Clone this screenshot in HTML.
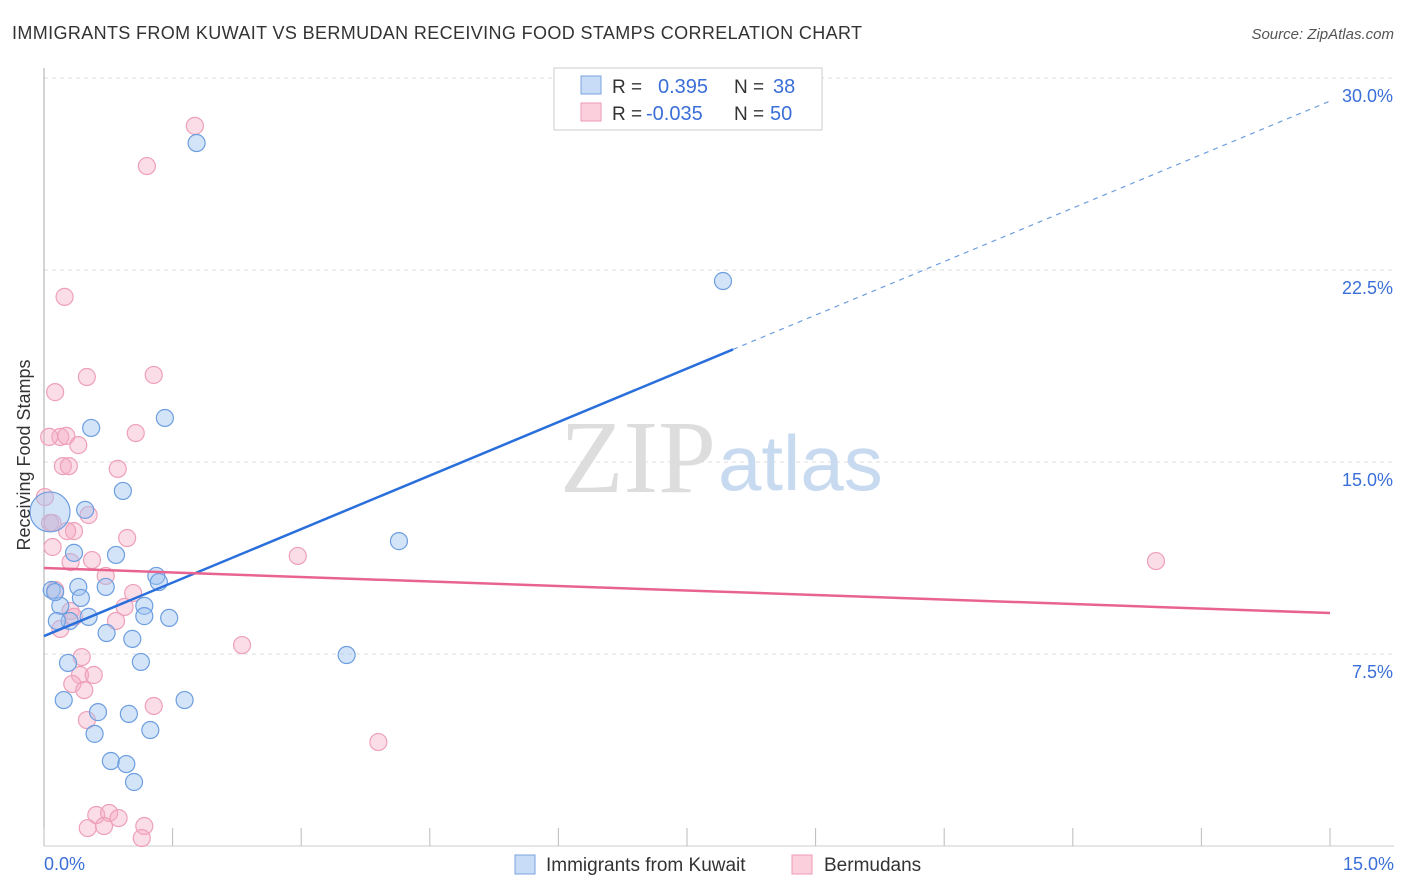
<!DOCTYPE html>
<html><head><meta charset="utf-8"><style>
body{margin:0;background:#fff;font-family:"Liberation Sans",sans-serif;}
svg{display:block}
</style></head><body>
<svg id="chart" width="1406" height="892">
<text x="12" y="39" font-size="18" fill="#333" textLength="850">IMMIGRANTS FROM KUWAIT VS BERMUDAN RECEIVING FOOD STAMPS CORRELATION CHART</text>
<text x="1394" y="39" font-size="15" fill="#555" font-style="italic" text-anchor="end">Source: ZipAtlas.com</text>
<g id="grid"></g>
<text x="716" y="492" font-size="104" font-family="Liberation Serif,serif" fill="#ddd" text-anchor="end">ZIP</text>
<text x="718" y="490" font-size="78" fill="#c8daf0">atlas</text>
<line x1="44" y1="68" x2="44" y2="846" stroke="#aaa"/>
<line x1="44" y1="846" x2="1394" y2="846" stroke="#ccc"/>
<g id="ticks"></g>
<g id="pts"></g>
<g id="lines"></g>
<text x="30" y="455" font-size="18" fill="#333" text-anchor="middle" transform="rotate(-90 30 455)">Receiving Food Stamps</text>
<text x="44" y="870" font-size="18" fill="#3a6fd8">0.0%</text>
<text x="1394" y="870" font-size="18" fill="#3a6fd8" text-anchor="end">15.0%</text>
<g>
<rect x="554" y="68" width="268" height="62" fill="#fff" stroke="#ccc"/>
<rect x="581" y="76" width="20" height="18" fill="#c9dcf7" stroke="#7aa3e0"/>
<rect x="581" y="103" width="20" height="18" fill="#fbd0dc" stroke="#ef99b4"/>
<text x="612" y="93" font-size="19" fill="#333">R = <tspan fill="#3a6fd8" x="658" font-size="20">0.395</tspan><tspan x="734">N =</tspan><tspan fill="#3a6fd8" x="773" font-size="20">38</tspan></text>
<text x="612" y="120" font-size="19" fill="#333">R = <tspan fill="#3a6fd8" x="646" font-size="20">-0.035</tspan><tspan x="734">N =</tspan><tspan fill="#3a6fd8" x="770" font-size="20">50</tspan></text>
</g>
<g>
<rect x="515" y="855" width="20" height="19" fill="#c9dcf7" stroke="#7aa3e0"/>
<text x="546" y="871" font-size="19" fill="#333">Immigrants from Kuwait</text>
<rect x="792" y="855" width="20" height="19" fill="#fbd0dc" stroke="#ef99b4"/>
<text x="824" y="871" font-size="19" fill="#333">Bermudans</text>
</g>
</svg>
<script>
const yTicks=[7.5,15,22.5,30];
const yTickLabels=["7.5%","15.0%","22.5%","30.0%"];
const blueX=[1.78,7.92,1.41,0.55,0.92,0.48,0.07,4.14,0.35,0.84,0.09,0.72,0.40,0.43,1.31,1.34,0.19,1.17,1.17,1.46,0.52,0.30,0.15,0.73,1.03,1.13,3.53,0.28,0.23,1.64,0.63,0.99,0.59,1.24,0.78,0.96,1.05,0.13];
const blueY=[27.46,22.07,16.72,16.33,13.87,13.13,13.05,11.91,11.45,11.37,10.0,10.12,10.12,9.69,10.55,10.31,9.38,9.38,8.98,8.91,8.95,8.79,8.79,8.32,8.09,7.19,7.46,7.15,5.70,5.70,5.23,5.16,4.38,4.53,3.32,3.20,2.50,9.92];
const pinkX=[1.76,1.20,0.24,0.13,0.50,1.28,0.19,0.06,0.26,0.40,1.07,0.22,0.29,0.86,0.52,0.01,0.07,0.10,0.35,0.27,0.10,0.97,0.56,2.96,0.31,12.97,0.13,0.72,1.04,0.94,0.31,0.35,0.84,0.19,2.31,0.44,0.42,0.58,0.33,0.47,1.28,0.50,3.90,0.61,0.76,0.87,0.51,0.70,1.17,1.14];
const pinkY=[28.13,26.56,21.45,17.73,18.32,18.40,15.98,15.98,16.02,15.66,16.13,14.84,14.84,14.73,12.93,13.63,12.62,12.62,12.30,12.30,11.68,12.03,11.17,11.33,11.09,11.13,10.0,10.55,9.88,9.34,9.18,8.95,8.79,8.48,7.85,7.38,6.68,6.68,6.33,6.09,5.47,4.92,4.06,1.21,1.29,1.09,0.70,0.78,0.78,0.31];
const blueTrend=[8.2,29.1];
const pinkTrend=[10.86,9.1];
const xScale=v=>44+v*(1286/15);
const yScale=v=>846-v*25.6;
const NS="http://www.w3.org/2000/svg";
function mk(tag,attrs,parent){const e=document.createElementNS(NS,tag);for(const k in attrs)e.setAttribute(k,attrs[k]);parent.appendChild(e);return e;}
const grid=document.getElementById('grid');
yTicks.forEach((t,i)=>{
  const l=mk('line',{x1:44,x2:1394,y1:yScale(t),y2:yScale(t),stroke:'#ddd','stroke-dasharray':'4,4'},grid);
  
  
  const tx=mk('text',{x:1393,y:yScale(t)+24,'font-size':18,fill:'#3a6fd8','text-anchor':'end'},grid);
  tx.textContent=yTickLabels[i];
  
  
});
const ticks=document.getElementById('ticks');
for(let i=0;i<=10;i++){
  const x=xScale(i*1.5);
  const l=mk('line',{x1:x,x2:x,y1:828,y2:846,stroke:'#bbb'},ticks);
  
  
}
const pts=document.getElementById('pts');
pinkX.forEach((x,i)=>{
  const c=mk('circle',{cx:xScale(x),cy:yScale(pinkY[i]),r:8.5,fill:'rgba(246,170,195,0.4)',stroke:'#eea0b8','stroke-width':1.2},pts);
  
  
});
blueX.forEach((x,i)=>{
  const c=mk('circle',{cx:xScale(x),cy:yScale(blueY[i]),r:i==6?20:8.5,fill:'rgba(160,195,240,0.45)',stroke:'#6c9ee0','stroke-width':1.2},pts);
  
  
});
const lines=document.getElementById('lines');
const bx1=xScale(0),by1=yScale(blueTrend[0]),bx2=xScale(15),by2=yScale(blueTrend[1]);
const frac=(733-44)/1286;
const bl=mk('line',{x1:bx1,y1:by1,x2:bx1+(bx2-bx1)*frac,y2:by1+(by2-by1)*frac,stroke:'#2a6fdb','stroke-width':2.5},lines);


const bd=mk('line',{x1:bx1+(bx2-bx1)*frac,y1:by1+(by2-by1)*frac,x2:bx2,y2:by2,stroke:'#6c9ee0','stroke-width':1.2,'stroke-dasharray':'5,5'},lines);


const pl=mk('line',{x1:xScale(0),y1:yScale(pinkTrend[0]),x2:xScale(15),y2:yScale(pinkTrend[1]),stroke:'#e8648f','stroke-width':2.5},lines);


</script>
</body></html>
